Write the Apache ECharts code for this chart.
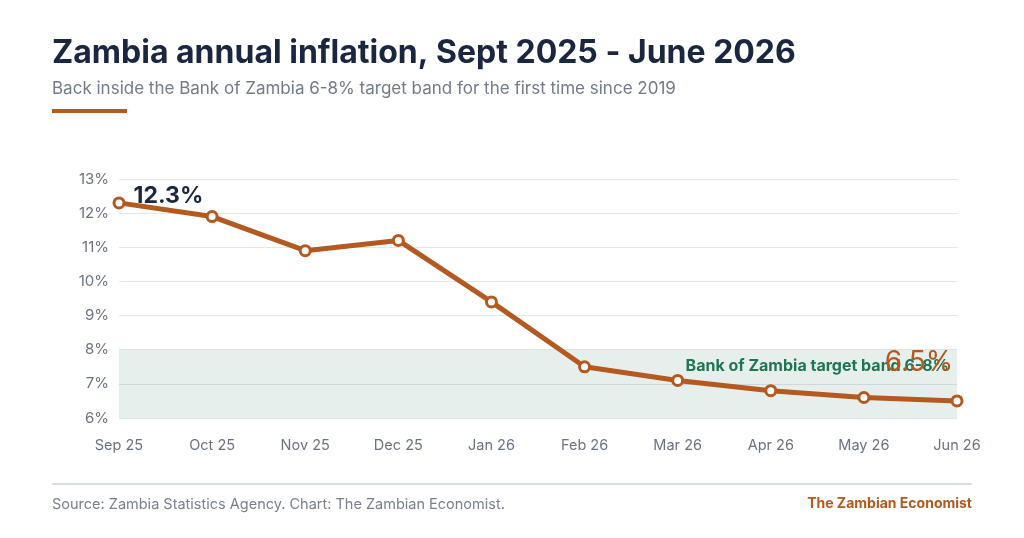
<!DOCTYPE html>
<html>
<head>
<meta charset="utf-8">
<style>
  html, body { margin: 0; padding: 0; background: #fff; }
  #chart { width: 1024px; height: 538px; }
</style>
<script src="https://cdn.jsdelivr.net/npm/echarts@6/dist/echarts.min.js"></script>
</head>
<body>
<div id="chart"></div>
<script>
// data
const months = ["Sep 25", "Oct 25", "Nov 25", "Dec 25", "Jan 26", "Feb 26", "Mar 26", "Apr 26", "May 26", "Jun 26"];
const inflation = [12.3, 11.9, 10.9, 11.2, 9.4, 7.5, 7.1, 6.8, 6.6, 6.5];
const bandLow = 6;
const bandHigh = 8;

const orange = "#b4591f";
const navy = "#1b2640";
const grey = "#6b7280";

const chart = echarts.init(document.getElementById("chart"));

const lastIdx = inflation.length - 1;
const points = inflation.map((v, i) => {
  if (i === 0) {
    return {
      value: v,
      label: {
        show: true, formatter: v.toFixed(1) + "%", position: "right",
        distance: 8, offset: [0, -7],
        color: navy, fontSize: 23, fontWeight: "bold"
      }
    };
  }
  if (i === lastIdx) {
    return {
      value: v,
      label: {
        show: true, formatter: v.toFixed(1) + "%", position: "top",
        distance: 18, offset: [-38, 0],
        color: orange, fontSize: 28
      }
    };
  }
  return v;
});

chart.setOption({
  textStyle: { fontFamily: "Inter" },
  animation: false,
  graphic: [
    { type: "text", left: 52, top: 37, style: { text: "Zambia annual inflation, Sept 2025 - June 2026", fill: navy, font: "bold 32px Inter" } },
    { type: "text", left: 52, top: 80, style: { text: "Back inside the Bank of Zambia 6-8% target band for the first time since 2019", fill: "#737b88", font: "17px Inter" } },
    { type: "rect", left: 52, top: 109, shape: { width: 75, height: 4 }, style: { fill: orange } },
    { type: "rect", left: 52, top: 483, shape: { width: 920, height: 2 }, style: { fill: "#d9dde6" } },
    { type: "text", left: 52, top: 497, style: { text: "Source: Zambia Statistics Agency. Chart: The Zambian Economist.", fill: "#7a818d", font: "14.5px Inter" } },
    { type: "text", right: 52, top: 497, style: { text: "The Zambian Economist", fill: orange, font: "bold 14px Inter" } }
  ],
  grid: { left: 119, right: 67, top: 179, bottom: 120 },
  xAxis: {
    type: "category",
    data: months,
    boundaryGap: false,
    axisLine: { show: false },
    axisTick: { show: false },
    axisLabel: { color: grey, fontSize: 14.5, margin: 20 }
  },
  yAxis: {
    type: "value",
    min: 6,
    max: 13,
    interval: 1,
    axisLabel: { formatter: "{value}%", color: grey, fontSize: 15, margin: 10 },
    splitLine: { lineStyle: { color: "#e2e6ee", width: 1 } }
  },
  series: [
    {
      type: "line",
      data: points,
      lineStyle: { color: orange, width: 5 },
      symbol: "circle",
      symbolSize: 10,
      itemStyle: { color: "#fff", borderColor: orange, borderWidth: 3 },
      z: 5,
      markArea: {
        silent: true,
        itemStyle: { color: "rgba(34,112,80,0.11)" },
        label: {
          show: true, position: "insideTopRight", distance: 8,
          formatter: "Bank of Zambia target band " + bandLow + "-" + bandHigh + "%",
          color: "#1f7552", fontSize: 16, fontWeight: "bold"
        },
        data: [[
          { yAxis: bandLow },
          { yAxis: bandHigh }
        ]]
      }
    }
  ]
});
</script>
</body>
</html>
